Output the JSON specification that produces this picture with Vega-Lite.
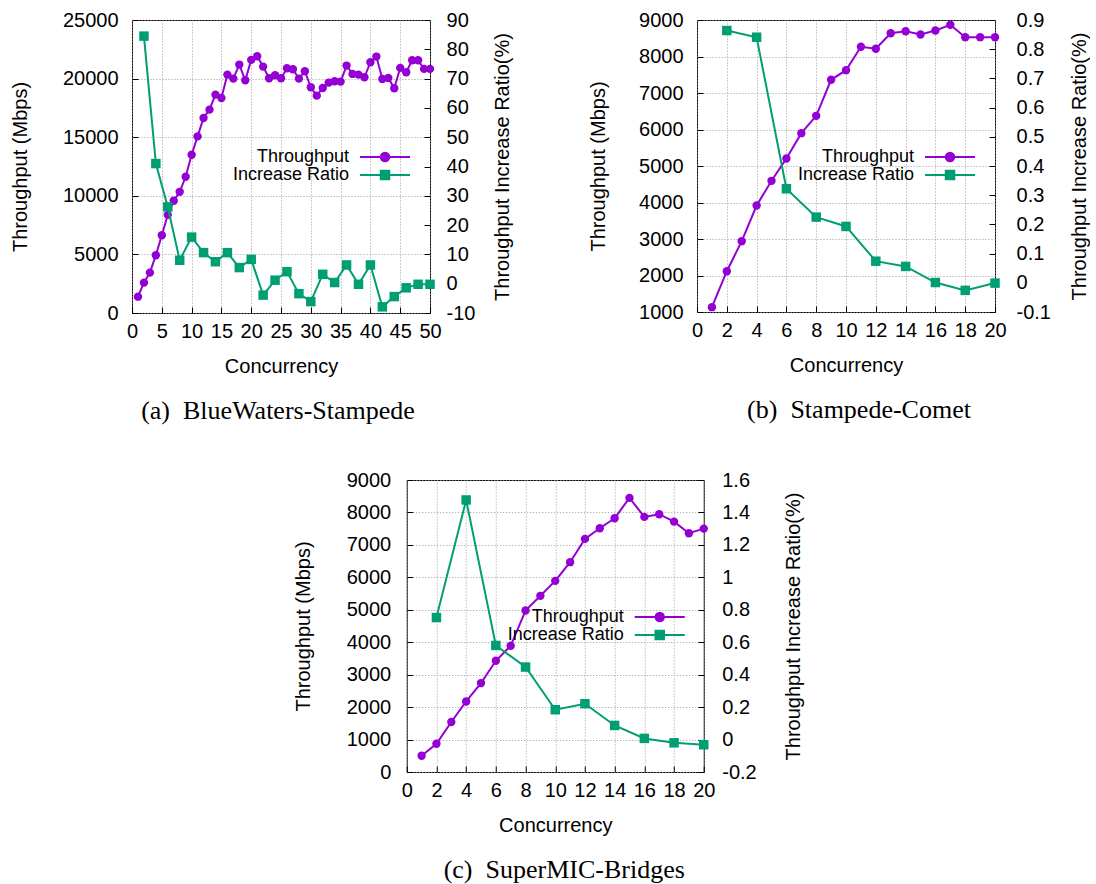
{
  "$schema": "https://vega.github.io/schema/vega-lite/v6.json",
  "background": "white",
  "padding": {"left": 9, "top": 9, "right": 0, "bottom": 0},
  "datasets": {
    "a": [
      {"c": 1, "series": "Throughput", "v": 1393}, {"c": 2, "series": "Throughput", "v": 2590},
      {"c": 3, "series": "Throughput", "v": 3445}, {"c": 4, "series": "Throughput", "v": 4930},
      {"c": 5, "series": "Throughput", "v": 6640}, {"c": 6, "series": "Throughput", "v": 8376},
      {"c": 7, "series": "Throughput", "v": 9573}, {"c": 8, "series": "Throughput", "v": 10340},
      {"c": 9, "series": "Throughput", "v": 11624}, {"c": 10, "series": "Throughput", "v": 13504},
      {"c": 11, "series": "Throughput", "v": 15071}, {"c": 12, "series": "Throughput", "v": 16638},
      {"c": 13, "series": "Throughput", "v": 17350}, {"c": 14, "series": "Throughput", "v": 18632},
      {"c": 15, "series": "Throughput", "v": 18348}, {"c": 16, "series": "Throughput", "v": 20342},
      {"c": 17, "series": "Throughput", "v": 20000}, {"c": 18, "series": "Throughput", "v": 21197},
      {"c": 19, "series": "Throughput", "v": 19857}, {"c": 20, "series": "Throughput", "v": 21595},
      {"c": 21, "series": "Throughput", "v": 21909}, {"c": 22, "series": "Throughput", "v": 21025},
      {"c": 23, "series": "Throughput", "v": 20028}, {"c": 24, "series": "Throughput", "v": 20285},
      {"c": 25, "series": "Throughput", "v": 20028}, {"c": 26, "series": "Throughput", "v": 20884},
      {"c": 27, "series": "Throughput", "v": 20798}, {"c": 28, "series": "Throughput", "v": 20000},
      {"c": 29, "series": "Throughput", "v": 20627}, {"c": 30, "series": "Throughput", "v": 19259},
      {"c": 31, "series": "Throughput", "v": 18547}, {"c": 32, "series": "Throughput", "v": 19202},
      {"c": 33, "series": "Throughput", "v": 19658}, {"c": 34, "series": "Throughput", "v": 19772},
      {"c": 35, "series": "Throughput", "v": 19744}, {"c": 36, "series": "Throughput", "v": 21111},
      {"c": 37, "series": "Throughput", "v": 20399}, {"c": 38, "series": "Throughput", "v": 20342},
      {"c": 39, "series": "Throughput", "v": 20114}, {"c": 40, "series": "Throughput", "v": 21396},
      {"c": 41, "series": "Throughput", "v": 21880}, {"c": 42, "series": "Throughput", "v": 19971},
      {"c": 43, "series": "Throughput", "v": 20057}, {"c": 44, "series": "Throughput", "v": 19174},
      {"c": 45, "series": "Throughput", "v": 20912}, {"c": 46, "series": "Throughput", "v": 20541},
      {"c": 47, "series": "Throughput", "v": 21567}, {"c": 48, "series": "Throughput", "v": 21567},
      {"c": 49, "series": "Throughput", "v": 20827}, {"c": 50, "series": "Throughput", "v": 20827},
      {"c": 2, "series": "Increase Ratio", "v": 84.5}, {"c": 4, "series": "Increase Ratio", "v": 41.0},
      {"c": 6, "series": "Increase Ratio", "v": 26.2}, {"c": 8, "series": "Increase Ratio", "v": 8.0},
      {"c": 10, "series": "Increase Ratio", "v": 15.9}, {"c": 12, "series": "Increase Ratio", "v": 10.6},
      {"c": 14, "series": "Increase Ratio", "v": 7.5}, {"c": 16, "series": "Increase Ratio", "v": 10.6},
      {"c": 18, "series": "Increase Ratio", "v": 5.5}, {"c": 20, "series": "Increase Ratio", "v": 8.3},
      {"c": 22, "series": "Increase Ratio", "v": -3.9}, {"c": 24, "series": "Increase Ratio", "v": 1.2},
      {"c": 26, "series": "Increase Ratio", "v": 4.1}, {"c": 28, "series": "Increase Ratio", "v": -3.4},
      {"c": 30, "series": "Increase Ratio", "v": -6.1}, {"c": 32, "series": "Increase Ratio", "v": 3.2},
      {"c": 34, "series": "Increase Ratio", "v": 0.4}, {"c": 36, "series": "Increase Ratio", "v": 6.4},
      {"c": 38, "series": "Increase Ratio", "v": -0.2}, {"c": 40, "series": "Increase Ratio", "v": 6.4},
      {"c": 42, "series": "Increase Ratio", "v": -7.9}, {"c": 44, "series": "Increase Ratio", "v": -4.4},
      {"c": 46, "series": "Increase Ratio", "v": -1.4}, {"c": 48, "series": "Increase Ratio", "v": -0.2},
      {"c": 50, "series": "Increase Ratio", "v": -0.2}
    ],
    "b": [
      {"c": 1, "series": "Throughput", "v": 1132}, {"c": 2, "series": "Throughput", "v": 2118},
      {"c": 3, "series": "Throughput", "v": 2940}, {"c": 4, "series": "Throughput", "v": 3918},
      {"c": 5, "series": "Throughput", "v": 4594}, {"c": 6, "series": "Throughput", "v": 5205},
      {"c": 7, "series": "Throughput", "v": 5899}, {"c": 8, "series": "Throughput", "v": 6375},
      {"c": 9, "series": "Throughput", "v": 7362}, {"c": 10, "series": "Throughput", "v": 7625},
      {"c": 11, "series": "Throughput", "v": 8266}, {"c": 12, "series": "Throughput", "v": 8211},
      {"c": 13, "series": "Throughput", "v": 8638}, {"c": 14, "series": "Throughput", "v": 8693},
      {"c": 15, "series": "Throughput", "v": 8603}, {"c": 16, "series": "Throughput", "v": 8712},
      {"c": 17, "series": "Throughput", "v": 8868}, {"c": 18, "series": "Throughput", "v": 8529},
      {"c": 19, "series": "Throughput", "v": 8529}, {"c": 20, "series": "Throughput", "v": 8529},
      {"c": 2, "series": "Increase Ratio", "v": 0.864}, {"c": 4, "series": "Increase Ratio", "v": 0.841},
      {"c": 6, "series": "Increase Ratio", "v": 0.322}, {"c": 8, "series": "Increase Ratio", "v": 0.225},
      {"c": 10, "series": "Increase Ratio", "v": 0.193}, {"c": 12, "series": "Increase Ratio", "v": 0.074},
      {"c": 14, "series": "Increase Ratio", "v": 0.056}, {"c": 16, "series": "Increase Ratio", "v": 0.001},
      {"c": 18, "series": "Increase Ratio", "v": -0.026}, {"c": 20, "series": "Increase Ratio", "v": -0.001}
    ],
    "c": [
      {"c": 1, "series": "Throughput", "v": 502}, {"c": 2, "series": "Throughput", "v": 871},
      {"c": 3, "series": "Throughput", "v": 1540}, {"c": 4, "series": "Throughput", "v": 2174},
      {"c": 5, "series": "Throughput", "v": 2741}, {"c": 6, "series": "Throughput", "v": 3428},
      {"c": 7, "series": "Throughput", "v": 3890}, {"c": 8, "series": "Throughput", "v": 4977},
      {"c": 9, "series": "Throughput", "v": 5430}, {"c": 10, "series": "Throughput", "v": 5892},
      {"c": 11, "series": "Throughput", "v": 6467}, {"c": 12, "series": "Throughput", "v": 7185},
      {"c": 13, "series": "Throughput", "v": 7514}, {"c": 14, "series": "Throughput", "v": 7822},
      {"c": 15, "series": "Throughput", "v": 8448}, {"c": 16, "series": "Throughput", "v": 7863},
      {"c": 17, "series": "Throughput", "v": 7945}, {"c": 18, "series": "Throughput", "v": 7718},
      {"c": 19, "series": "Throughput", "v": 7360}, {"c": 20, "series": "Throughput", "v": 7502},
      {"c": 2, "series": "Increase Ratio", "v": 0.752}, {"c": 4, "series": "Increase Ratio", "v": 1.477},
      {"c": 6, "series": "Increase Ratio", "v": 0.580}, {"c": 8, "series": "Increase Ratio", "v": 0.447},
      {"c": 10, "series": "Increase Ratio", "v": 0.184}, {"c": 12, "series": "Increase Ratio", "v": 0.221},
      {"c": 14, "series": "Increase Ratio", "v": 0.087}, {"c": 16, "series": "Increase Ratio", "v": 0.007},
      {"c": 18, "series": "Increase Ratio", "v": -0.020}, {"c": 20, "series": "Increase Ratio", "v": -0.032}
    ]
  },
  "vconcat": [
    {
      "hconcat": [
        {
          "width": 298, "height": 293,
          "data": {"name": "a"},
          "title": {"text": "(a)\u00a0\u00a0BlueWaters-Stampede", "dx": -3},
          "encoding": {
            "x": {"field": "c", "type": "quantitative", "scale": {"domain": [0, 50], "nice": false},
                  "axis": {"values": [0, 5, 10, 15, 20, 25, 30, 35, 40, 45, 50], "title": "Concurrency"}},
            "color": {"field": "series", "type": "nominal",
                      "scale": {"domain": ["Throughput", "Increase Ratio"], "range": ["#9400d3", "#009e73"]},
                      "legend": {"orient": "none", "legendX": 244, "legendY": 128,
                        "encode": {"symbols": {"update": {
                          "shape": {"signal": "datum.value === 'Throughput' ? 'M-5,0H5M-0.85,0A0.85,0.85 0 1,1 0.85,0A0.85,0.85 0 1,1 -0.85,0' : 'M-5,0H5M-0.85,-0.85H0.85V0.85H-0.85Z'"},
                          "fill": {"signal": "datum.value === 'Throughput' ? '#9400d3' : '#009e73'"},
                          "stroke": {"signal": "datum.value === 'Throughput' ? '#9400d3' : '#009e73'"},
                          "strokeWidth": {"value": 2}, "size": {"value": 100}, "opacity": {"value": 1}}}}}}
          },
          "layer": [
            {"transform": [{"filter": "datum.series === 'Throughput'"}],
             "mark": {"type": "line", "strokeWidth": 2, "point": {"filled": true, "size": 70, "shape": "circle"}},
             "encoding": {"y": {"field": "v", "type": "quantitative", "scale": {"domain": [0, 25000], "nice": false, "zero": false},
               "axis": {"orient": "left", "values": [0, 5000, 10000, 15000, 20000, 25000], "format": "d", "title": "Throughput (Mbps)", "grid": true, "titlePadding": 32}}}},
            {"transform": [{"filter": "datum.series === 'Increase Ratio'"}],
             "mark": {"type": "line", "strokeWidth": 2, "point": {"filled": true, "size": 90, "shape": "square"}},
             "encoding": {"y": {"field": "v", "type": "quantitative", "scale": {"domain": [-10, 90], "nice": false, "zero": false},
               "axis": {"orient": "right", "values": [-10, 0, 10, 20, 30, 40, 50, 60, 70, 80, 90],
                        "labelExpr": "replace(format(datum.value, '~g'), '\u2212', '-')",
                        "title": "Throughput Increase Ratio(%)", "labelPadding": 22, "titlePadding": 18}}}}
          ],
          "resolve": {"scale": {"y": "independent"}}
        },
        {
          "width": 298, "height": 292,
          "data": {"name": "b"},
          "title": {"text": "(b)\u00a0\u00a0Stampede-Comet", "dx": 13},
          "encoding": {
            "x": {"field": "c", "type": "quantitative", "scale": {"domain": [0, 20], "nice": false},
                  "axis": {"values": [0, 2, 4, 6, 8, 10, 12, 14, 16, 18, 20], "title": "Concurrency"}},
            "color": {"field": "series", "type": "nominal",
                      "scale": {"domain": ["Throughput", "Increase Ratio"], "range": ["#9400d3", "#009e73"]},
                      "legend": {"orient": "none", "legendX": 244, "legendY": 128,
                        "encode": {"symbols": {"update": {
                          "shape": {"signal": "datum.value === 'Throughput' ? 'M-5,0H5M-0.85,0A0.85,0.85 0 1,1 0.85,0A0.85,0.85 0 1,1 -0.85,0' : 'M-5,0H5M-0.85,-0.85H0.85V0.85H-0.85Z'"},
                          "fill": {"signal": "datum.value === 'Throughput' ? '#9400d3' : '#009e73'"},
                          "stroke": {"signal": "datum.value === 'Throughput' ? '#9400d3' : '#009e73'"},
                          "strokeWidth": {"value": 2}, "size": {"value": 100}, "opacity": {"value": 1}}}}}}
          },
          "layer": [
            {"transform": [{"filter": "datum.series === 'Throughput'"}],
             "mark": {"type": "line", "strokeWidth": 2, "point": {"filled": true, "size": 70, "shape": "circle"}},
             "encoding": {"y": {"field": "v", "type": "quantitative", "scale": {"domain": [1000, 9000], "nice": false, "zero": false},
               "axis": {"orient": "left", "values": [1000, 2000, 3000, 4000, 5000, 6000, 7000, 8000, 9000], "format": "d", "title": "Throughput (Mbps)", "grid": true, "labelPadding": 20, "titlePadding": 30}}}},
            {"transform": [{"filter": "datum.series === 'Increase Ratio'"}],
             "mark": {"type": "line", "strokeWidth": 2, "point": {"filled": true, "size": 90, "shape": "square"}},
             "encoding": {"y": {"field": "v", "type": "quantitative", "scale": {"domain": [-0.1, 0.9], "nice": false, "zero": false},
               "axis": {"orient": "right", "values": [-0.1, 0, 0.1, 0.2, 0.3, 0.4, 0.5, 0.6, 0.7, 0.8, 0.9],
                        "labelExpr": "replace(format(datum.value, '~g'), '\u2212', '-')",
                        "title": "Throughput Increase Ratio(%)", "labelPadding": 27, "titlePadding": 19}}}}
          ],
          "resolve": {"scale": {"y": "independent"}}
        }
      ],
      "spacing": 74,
      "resolve": {"scale": {"color": "independent"}, "legend": {"color": "independent"}}
    },
    {
      "width": 297, "height": 292,
      "data": {"name": "c"},
      "title": {"text": "(c)\u00a0\u00a0SuperMIC-Bridges", "dx": 9},
      "encoding": {
        "x": {"field": "c", "type": "quantitative", "scale": {"domain": [0, 20], "nice": false},
              "axis": {"values": [0, 2, 4, 6, 8, 10, 12, 14, 16, 18, 20], "title": "Concurrency"}},
        "color": {"field": "series", "type": "nominal",
                  "scale": {"domain": ["Throughput", "Increase Ratio"], "range": ["#9400d3", "#009e73"]},
                  "legend": {"orient": "none", "legendX": 118, "legendY": 2, "padding": 126,
                    "encode": {"symbols": {"update": {
                      "shape": {"signal": "datum.value === 'Throughput' ? 'M-5,0H5M-0.85,0A0.85,0.85 0 1,1 0.85,0A0.85,0.85 0 1,1 -0.85,0' : 'M-5,0H5M-0.85,-0.85H0.85V0.85H-0.85Z'"},
                      "fill": {"signal": "datum.value === 'Throughput' ? '#9400d3' : '#009e73'"},
                      "stroke": {"signal": "datum.value === 'Throughput' ? '#9400d3' : '#009e73'"},
                      "strokeWidth": {"value": 2}, "size": {"value": 100}, "opacity": {"value": 1}}}}}}
      },
      "layer": [
        {"transform": [{"filter": "datum.series === 'Throughput'"}],
         "mark": {"type": "line", "strokeWidth": 2, "point": {"filled": true, "size": 70, "shape": "circle"}},
         "encoding": {"y": {"field": "v", "type": "quantitative", "scale": {"domain": [0, 9000], "nice": false, "zero": false},
           "axis": {"orient": "left", "values": [0, 1000, 2000, 3000, 4000, 5000, 6000, 7000, 8000, 9000], "format": "d", "title": "Throughput (Mbps)", "grid": true, "labelPadding": 22, "titlePadding": 33}}}},
        {"transform": [{"filter": "datum.series === 'Increase Ratio'"}],
         "mark": {"type": "line", "strokeWidth": 2, "point": {"filled": true, "size": 90, "shape": "square"}},
         "encoding": {"y": {"field": "v", "type": "quantitative", "scale": {"domain": [-0.2, 1.6], "nice": false, "zero": false},
           "axis": {"orient": "right", "values": [-0.2, 0, 0.2, 0.4, 0.6, 0.8, 1, 1.2, 1.4, 1.6],
                    "labelExpr": "replace(format(datum.value, '~g'), '\u2212', '-')",
                    "title": "Throughput Increase Ratio(%)", "labelPadding": 24, "titlePadding": 27}}}}
      ],
      "resolve": {"scale": {"y": "independent"}}
    }
  ],
  "spacing": 44,
  "center": true,
  "resolve": {"scale": {"color": "independent"}, "legend": {"color": "independent"}},
  "config": {
    "font": "Liberation Sans",
    "view": {"stroke": "black", "strokeWidth": 1},
    "axis": {
      "labelFont": "Liberation Sans", "labelFontSize": 20, "labelColor": "black",
      "titleFont": "Liberation Sans", "titleFontSize": 20, "titleFontWeight": "normal", "titleColor": "black",
      "domain": false, "tickColor": "black", "tickSize": -6, "tickWidth": 1,
      "labelFlush": false, "labelOverlap": false,
      "gridColor": "#9a9a9a", "gridDash": [1, 2], "gridWidth": 1
    },
    "axisBottom": {"labelPadding": 14, "titlePadding": 15, "grid": true},
    "axisLeft": {"labelPadding": 20, "titlePadding": 29},
    "axisRight": {"labelAlign": "left", "titleAngle": -90, "titleBaseline": "top", "grid": false},
    "legend": {
      "title": null, "labelFont": "Liberation Sans", "labelFontSize": 18, "labelColor": "black",
      "labelAlign": "right", "labelOffset": -45, "rowPadding": 0, "padding": 0, "symbolSize": 100
    },
    "title": {
      "orient": "bottom", "frame": "group", "anchor": "middle", "font": "Liberation Serif",
      "fontSize": 26, "fontWeight": "normal", "color": "black", "offset": 22
    }
  }
}
